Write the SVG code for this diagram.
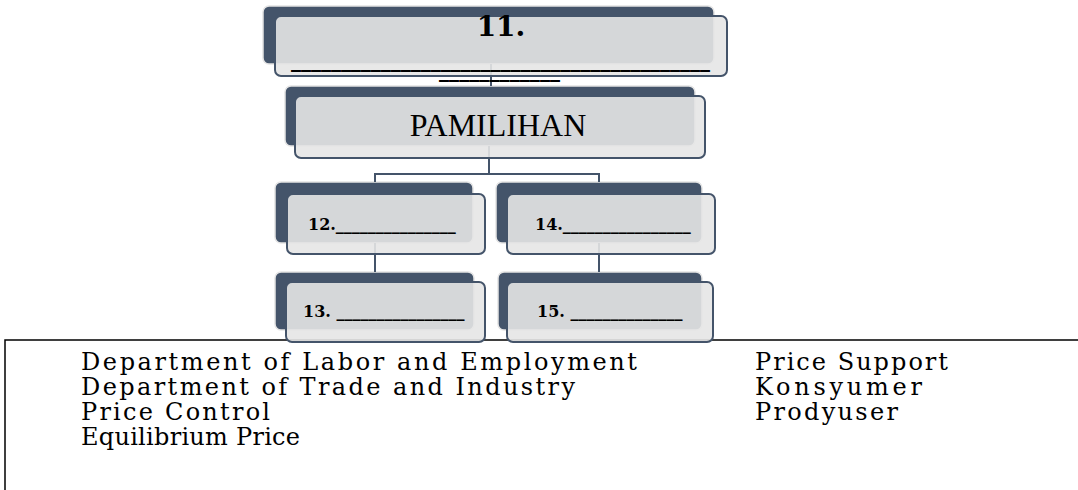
<svg xmlns="http://www.w3.org/2000/svg" width="1078" height="490" viewBox="0 0 1078 490">
<style>
.back{fill:#44546a;stroke:#e4e4e4;stroke-width:1.5}
.front{fill:#e6e6e6;fill-opacity:0.9;stroke:#44546a;stroke-width:2}
.conn{stroke:#44546a;stroke-width:2;fill:none}
.num{font-family:"DejaVu Serif",serif;font-weight:bold;fill:#000}
.leg{font-family:"DejaVu Serif",serif;font-size:24px;fill:#000}
</style>
<rect x="0" y="0" width="1078" height="490" fill="#fff"/>
<g id="legend">
<path d="M5,490 V340 H1078" fill="none" stroke="#000" stroke-width="1.5"/>
<text class="leg" x="81" y="370" textLength="556">Department of Labor and Employment</text>
<text class="leg" x="81" y="395" textLength="494">Department of Trade and Industry</text>
<text class="leg" x="81" y="420" textLength="189">Price Control</text>
<text class="leg" x="81" y="445" textLength="219">Equilibrium Price</text>
<text class="leg" x="755" y="370" textLength="193">Price Support</text>
<text class="leg" x="755" y="395" textLength="167">Konsyumer</text>
<text class="leg" x="755" y="420" textLength="143">Prodyuser</text>
</g>
<g id="backs">
<rect class="back" x="263" y="6" width="451" height="58" rx="6"/>
<rect class="back" x="285" y="86" width="410" height="60" rx="6"/>
<rect class="back" x="275" y="182" width="198" height="61" rx="6"/>
<rect class="back" x="496" y="182" width="206" height="61" rx="6"/>
<rect class="back" x="275" y="272" width="199" height="58" rx="6"/>
<rect class="back" x="498" y="272" width="204" height="58" rx="6"/>
</g>
<g id="connectors">
<path class="conn" d="M491,64 V86"/>
<path class="conn" d="M489,146 V174 M375,182 V174 H599 V182"/>
<path class="conn" d="M375,243 V272"/>
<path class="conn" d="M599,243 V272"/>
</g>
<g id="node11">
<rect class="front" x="275" y="16" width="452" height="60" rx="6"/>
<text class="num" font-size="28" x="501" y="36" text-anchor="middle">11.</text>
<text class="num" font-size="20" x="291" y="67" textLength="419">__________________________________________</text>
<text class="num" font-size="20" x="439" y="77" textLength="121">____________</text>
</g>
<g id="pamilihan">
<rect class="front" x="295" y="96" width="410" height="62" rx="6"/>
<text x="498" y="136" text-anchor="middle" font-family="'Liberation Serif',serif" font-size="32" fill="#000">PAMILIHAN</text>
</g>
<g id="node12">
<rect class="front" x="287" y="194" width="198" height="60" rx="6"/>
<text class="num" font-size="16" x="308" y="230">12._______________</text>
</g>
<g id="node14">
<rect class="front" x="507" y="194" width="208" height="60" rx="6"/>
<text class="num" font-size="16" x="535" y="230">14.________________</text>
</g>
<g id="node13">
<rect class="front" x="286" y="282" width="199" height="60" rx="6"/>
<text class="num" font-size="16" x="303" y="317">13. ________________</text>
</g>
<g id="node15">
<rect class="front" x="507" y="282" width="206" height="60" rx="6"/>
<text class="num" font-size="16" x="537" y="317">15. ______________</text>
</g>
</svg>
